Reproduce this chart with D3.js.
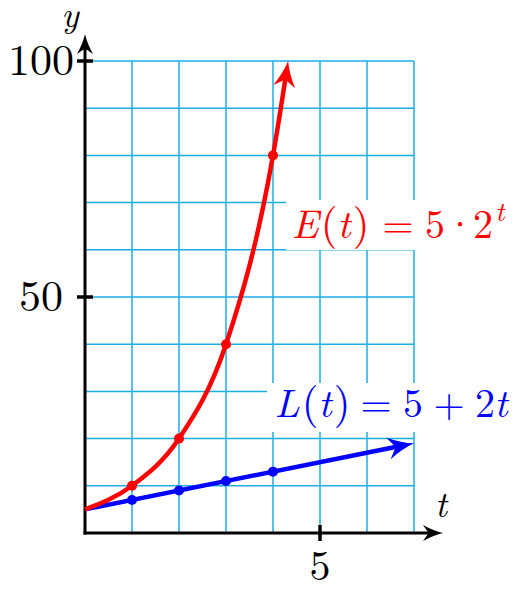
<!DOCTYPE html>
<html><head><meta charset="utf-8">
<script src="https://cdn.jsdelivr.net/npm/d3@7"></script>
<style>body{margin:0;background:#fff}svg{display:block}</style>
</head><body>
<script>
const xTicks=[5], yTicks=[50,100];
const xGrid=[1,2,3,4,5,6,7], yGrid=[10,20,30,40,50,60,70,80,90,100];
const expT=[0,1,2,3,4,4.322], expV=[5,10,20,40,80,100];
const expPtsT=[1,2,3,4], expPtsV=[10,20,40,80];
const linT=[0,7], linV=[5,19];
const linPtsT=[1,2,3,4], linPtsV=[7,9,11,13];
const expLabel=["E","(","t",")","=","5","·","2","t"];
const linLabel=["L","(","t",")","=","5","+","2","t"];

const W=517,H=592;
const svg=d3.select("body").append("svg").attr("width",W).attr("height",H);
const x=d3.scaleLinear().domain([0,7]).range([85,414]);
const y=d3.scaleLinear().domain([0,100]).range([533,61]);
const grid="#1aaee8", red="#ff0000", blue="#0000ff";
const font="'Latin Modern Roman','CMU Serif','Liberation Serif',serif";

const g=svg.append("g");
g.selectAll(".vg").data(xGrid).join("line").attr("x1",d=>x(d)).attr("x2",d=>x(d)).attr("y1",y(0)).attr("y2",y(100))
 .attr("stroke",grid).attr("stroke-width",1.5);
g.selectAll(".hg").data(yGrid).join("line").attr("y1",d=>y(d)).attr("y2",d=>y(d)).attr("x1",x(0)).attr("x2",x(7))
 .attr("stroke",grid).attr("stroke-width",1.5);

function head(tx,ty,a,len,hw,col){
  const c=Math.cos(a),s=Math.sin(a);
  const P=(u,v)=>[tx+u*c-v*s, ty+u*s+v*c];
  const p=d3.path();
  const b1=P(-len,-hw),b2=P(-len,hw),m=P(-len*0.72,0),q1=P(-len*0.45,-hw*0.25),q2=P(-len*0.45,hw*0.25),t=P(0,0);
  p.moveTo(...t); p.quadraticCurveTo(...q1,...b1); p.lineTo(...m); p.lineTo(...b2); p.quadraticCurveTo(...q2,...t); p.closePath();
  svg.append("path").attr("d",p.toString()).attr("fill",col);
}
function arrowPath(dstr,col,w,len,hw,trim){
  const pth=svg.append("path").attr("d",dstr).attr("fill","none").attr("stroke",col).attr("stroke-width",w);
  const n=pth.node(), L=n.getTotalLength();
  pth.attr("stroke-dasharray",`${L-trim} ${L+10}`);
  const e=n.getPointAtLength(L), b=n.getPointAtLength(L-6);
  head(e.x,e.y,Math.atan2(e.y-b.y,e.x-b.x),len,hw,col);
}

// axes
arrowPath(`M${x(0)-1.5},${y(0)}L443,${y(0)}`,"#000",3,20,8,10);
arrowPath(`M${x(0)},${y(0)+1.5}L${x(0)},34`,"#000",3,20,8,10);
svg.selectAll(".yt").data(yTicks).join("line").attr("x1",x(0)-8).attr("x2",x(0)+8).attr("y1",d=>y(d)).attr("y2",d=>y(d)).attr("stroke","#000").attr("stroke-width",3.5);
svg.selectAll(".xt").data(xTicks).join("line").attr("y1",y(0)-8).attr("y2",y(0)+8).attr("x1",d=>x(d)).attr("x2",d=>x(d)).attr("stroke","#000").attr("stroke-width",3.5);
svg.selectAll(".ytl").data(yTicks).join("text").attr("x",41).attr("y",d=>y(d)+14).attr("text-anchor","middle")
 .attr("font-family",font).attr("font-size",44).text(d=>d);
svg.selectAll(".xtl").data(xTicks).join("text").attr("x",d=>x(d)).attr("y",580).attr("text-anchor","middle")
 .attr("font-family",font).attr("font-size",42).text(d=>d);
svg.append("text").attr("x",70).attr("y",27).attr("text-anchor","middle").attr("font-family",font).attr("font-style","italic").attr("font-size",36).text("y");
svg.append("text").attr("x",441).attr("y",517).attr("text-anchor","middle").attr("font-family",font).attr("font-style","italic").attr("font-size",36).text("t");

// linear
const linLine=d3.line().x(d=>x(d[0])).y(d=>y(d[1]));
arrowPath(linLine(linT.map((t,i)=>[t,linV[i]])),blue,4.5,26,11,14);
svg.selectAll(".lp").data(linPtsT.map((t,i)=>[t,linPtsV[i]])).join("circle").attr("cx",d=>x(d[0])).attr("cy",d=>y(d[1])).attr("r",5).attr("fill",blue);

// exponential
const expLine=d3.line().x(d=>x(d[0])).y(d=>y(d[1])).curve(d3.curveMonotoneX);
arrowPath(expLine(expT.map((t,i)=>[t,expV[i]])),red,4.5,26,11,14);
svg.selectAll(".ep").data(expPtsT.map((t,i)=>[t,expPtsV[i]])).join("circle").attr("cx",d=>x(d[0])).attr("cy",d=>y(d[1])).attr("r",5).attr("fill",red);

// labels with white boxes; each glyph group placed at its centre
function label(chars,centers,base,col,box,supLast){
  svg.append("rect").attr("x",box[0]).attr("y",box[1]).attr("width",box[2]-box[0]).attr("height",box[3]-box[1]).attr("fill","#fff");
  const italic=new Set([0,2,chars.length-1]);
  chars.forEach((c,i)=>{
    const sup=supLast&&i===chars.length-1;
    svg.append("text").attr("x",centers[i]).attr("y",sup?base-17:base).attr("text-anchor","middle")
      .attr("font-family",font).attr("font-size",sup?28:(c==="("||c===")")?43:40)
      .attr("font-style",italic.has(i)?"italic":"normal").attr("fill",col).text(c);
  });
}
label(expLabel,[305,329,344,361,398,435,460,483,500],238,red,[286,200,517,250],true);
label(linLabel,[287,310,325,342,376,413,449,485,501],417,blue,[267,383,517,432],false);
</script>
</body></html>
